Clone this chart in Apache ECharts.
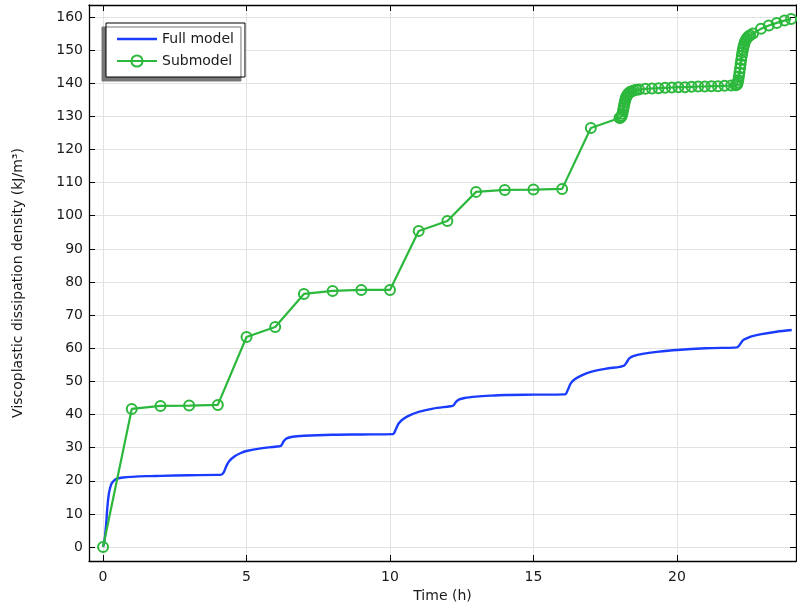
<!DOCTYPE html>
<html><head><meta charset="utf-8">
<script src="https://cdn.jsdelivr.net/npm/echarts@6/dist/echarts.min.js"></script>
<style>html,body{margin:0;padding:0;background:#fff}#c{width:797px;height:602px}</style>
</head><body><div id="c"></div>
<script>
var xTicks = [0, 5, 10, 15, 20];
var yTicks = [0, 10, 20, 30, 40, 50, 60, 70, 80, 90, 100, 110, 120, 130, 140, 150, 160];

var fullT = [0, 0.05, 0.1, 0.15, 0.2, 0.25, 0.3, 0.4, 0.5, 0.7, 1.0, 1.5, 2, 3, 4, 4.1, 4.2, 4.3, 4.4, 4.6, 4.8, 5.0, 5.5, 6.0, 6.2, 6.3, 6.4, 6.6, 7.0, 8, 9, 10.1, 10.2, 10.3, 10.45, 10.7, 11, 11.5, 12.1, 12.2, 12.3, 12.4, 12.6, 13, 13.5, 14, 15, 16.1, 16.2, 16.3, 16.45, 16.7, 17, 17.5, 18.0, 18.15, 18.25, 18.35, 18.5, 18.8, 19.3, 20, 21, 22, 22.1, 22.2, 22.3, 22.43, 22.6, 22.9, 23.47, 24.0];
var fullV = [0, 2, 6, 12, 16, 18, 19.2, 20.2, 20.7, 21.0, 21.2, 21.4, 21.5, 21.7, 21.8, 21.8, 22.5, 24.5, 26, 27.5, 28.4, 29.0, 29.8, 30.3, 30.6, 32, 32.8, 33.3, 33.6, 33.9, 34.0, 34.1, 35.5, 37.3, 38.6, 39.8, 40.8, 41.8, 42.5, 42.7, 43.8, 44.5, 45.0, 45.4, 45.7, 45.9, 46.0, 46.1, 47.5, 49.4, 50.7, 51.9, 52.9, 53.8, 54.4, 54.7, 55.8, 57.0, 57.7, 58.3, 58.9, 59.5, 60.0, 60.2, 60.3, 61.2, 62.4, 63.0, 63.6, 64.2, 65.0, 65.5];

var subT = [0, 1, 2, 3, 4, 5, 6, 7, 8, 9, 10, 11, 12, 13, 14, 15, 16, 17,
  18.00, 18.03, 18.05, 18.08, 18.10, 18.12, 18.14, 18.16, 18.18, 18.20, 18.22, 18.24, 18.27, 18.30, 18.34, 18.38, 18.43, 18.50, 18.58, 18.68,
  18.90, 19.13, 19.36, 19.59, 19.82, 20.05, 20.28, 20.51, 20.74, 20.97, 21.20, 21.43, 21.66, 21.89, 22.05,
  22.08, 22.10, 22.12, 22.14, 22.16, 22.18, 22.20, 22.22, 22.24, 22.26, 22.28, 22.30, 22.32, 22.34, 22.37, 22.40, 22.44, 22.49, 22.55,
  22.65, 22.93, 23.20, 23.48, 23.75, 23.98];
var subV = [0, 41.7, 42.6, 42.7, 42.9, 63.4, 66.4, 76.4, 77.3, 77.6, 77.6, 95.4, 98.4, 107.2, 107.8, 107.9, 108.1, 126.5,
  129.5, 129.6, 129.8, 130.2, 130.8, 131.6, 132.5, 133.4, 134.2, 134.9, 135.5, 136.0, 136.4, 136.8, 137.1, 137.4, 137.6, 137.8, 138.0, 138.1,
  138.3, 138.4, 138.5, 138.6, 138.7, 138.8, 138.8, 138.9, 139.0, 139.0, 139.1, 139.1, 139.2, 139.3, 139.4,
  139.5, 139.7, 140.2, 141.0, 142.0, 143.2, 144.5, 145.8, 147.0, 148.2, 149.3, 150.2, 151.0, 151.7, 152.4, 153.0, 153.6, 154.1, 154.5,
  155.0, 156.4, 157.4, 158.2, 158.9, 159.4];

function pairs(t, v) { return t.map(function (x, i) { return [x, v[i]]; }); }

var FONT = 'DejaVu Sans';
var FS = 14;
var TXT = '#1a1a1a';
var blue = '#1a3cff';
var green = '#2cb83c';

var chart = echarts.init(document.getElementById('c'), null, { renderer: 'canvas' });
var baseX = {
  type: 'value', min: -0.49, max: 24.15,
  axisLine: { show: true, onZero: false, lineStyle: { color: '#000', width: 1.3 } },
  axisTick: { show: true, inside: true, length: 6, customValues: xTicks, lineStyle: { color: '#000', width: 1 } },
  splitLine: { show: false }
};
var baseY = {
  type: 'value', min: -4.2, max: 163.6,
  axisLine: { show: true, onZero: false, lineStyle: { color: '#000', width: 1.3 } },
  axisTick: { show: true, inside: true, length: 6, customValues: yTicks, lineStyle: { color: '#000', width: 1 } },
  splitLine: { show: false }
};
chart.setOption({
  animation: false,
  backgroundColor: '#fff',
  textStyle: { fontFamily: FONT },
  grid: { left: 89, top: 5, right: 1, bottom: 41, containLabel: false, outerBoundsMode: 'none' },
  legend: {
    left: 106, top: 23, orient: 'vertical',
    padding: [9, 11, 9, 10], itemWidth: 40, itemHeight: 14, itemGap: 8,
    backgroundColor: '#fff', borderColor: '#000', borderWidth: 1,
    shadowColor: '#777', shadowBlur: 0, shadowOffsetX: -4, shadowOffsetY: 4,
    textStyle: { fontFamily: FONT, fontSize: FS, color: TXT },
    data: [
      { name: 'Full model', icon: 'path://M0,0 L40,0 L40,2.4 L0,2.4 Z' },
      { name: 'Submodel' }
    ]
  },
  xAxis: [
    Object.assign({}, baseX, {
      position: 'bottom',
      name: 'Time (h)', nameLocation: 'middle', nameGap: 25,
      nameTextStyle: { fontFamily: FONT, fontSize: FS, color: TXT },
      axisLabel: { show: true, customValues: xTicks, margin: 9, fontFamily: FONT, fontSize: FS, color: TXT },
      splitLine: { show: true, lineStyle: { color: '#e2e2e2', width: 1 } }
    }),
    Object.assign({}, baseX, { position: 'top', axisLabel: { show: false } })
  ],
  yAxis: [
    Object.assign({}, baseY, {
      position: 'left',
      name: 'Viscoplastic dissipation density (kJ/m³)', nameLocation: 'middle', nameGap: 64, nameRotate: 90,
      nameTextStyle: { fontFamily: FONT, fontSize: FS, color: TXT },
      axisLabel: { show: true, customValues: yTicks, margin: 6, fontFamily: FONT, fontSize: FS, color: TXT },
      splitLine: { show: true, lineStyle: { color: '#e2e2e2', width: 1 } }
    }),
    Object.assign({}, baseY, { position: 'right', axisLabel: { show: false } })
  ],
  series: [
    {
      name: 'Full model', type: 'line', data: pairs(fullT, fullV),
      xAxisIndex: 0, yAxisIndex: 0,
      showSymbol: false, symbol: 'none', smooth: 0.3,
      lineStyle: { color: blue, width: 2.4 }, itemStyle: { color: blue }, z: 3
    },
    {
      name: 'Submodel', type: 'line', data: pairs(subT, subV),
      xAxisIndex: 0, yAxisIndex: 0,
      symbol: 'circle', symbolSize: 10, showAllSymbol: true,
      lineStyle: { color: green, width: 2.2 },
      itemStyle: { color: 'rgba(255,255,255,0)', borderColor: green, borderWidth: 2 }, z: 4
    }
  ]
});
</script></body></html>
